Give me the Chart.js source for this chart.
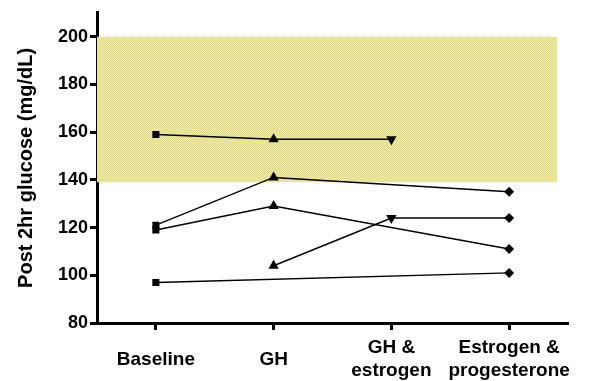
<!DOCTYPE html>
<html><head><meta charset="utf-8">
<script src="https://cdn.jsdelivr.net/npm/chart.js@4/dist/chart.umd.min.js"></script>
<style>html,body{margin:0;padding:0;background:#fff}#wrap{width:593px;height:381px}</style>
</head><body><div id="wrap"><canvas id="c" width="593" height="381"></canvas></div>
<script>
const categories = [["Baseline"], ["GH"], ["GH &", "estrogen"], ["Estrogen &", "progesterone"]];
const yTicks = [80, 100, 120, 140, 160, 180, 200];
const series1 = [159, 157, 157, null];
const series2 = [121, 141, null, 135];
const series3 = [119, 129, null, 111];
const series4 = [null, 104, 124, 124];
const series5 = [97, null, null, 101];
const bandTop = 200;
const bandBottom = 139;
const bandEnd = 3.41;

const catStyle = ['rect', 'triangle', 'triangle', 'rectRot'];
const catRot = [0, 0, 180, 0];
const catRad = [5, 6, 6, 5];

function toPts(vals) {
  const pts = [];
  vals.forEach((v, i) => { if (v !== null) pts.push({x: i, y: v}); });
  return pts;
}
function lineDs(vals) {
  const pts = toPts(vals);
  return {
    data: pts,
    borderColor: '#000', borderWidth: 1.4, backgroundColor: '#000',
    pointStyle: pts.map(p => catStyle[p.x]),
    pointRotation: pts.map(p => catRot[p.x]),
    pointRadius: pts.map(p => catRad[p.x]),
    pointBorderWidth: 0,
    pointBackgroundColor: '#000', pointBorderColor: '#000',
    fill: false, tension: 0, order: 0
  };
}
const pc = document.createElement('canvas');
pc.width = 2; pc.height = 2;
const pctx = pc.getContext('2d');
pctx.fillStyle = '#f4f0a4'; pctx.fillRect(0, 0, 2, 2);
pctx.fillStyle = '#dbd68e'; pctx.fillRect(0, 0, 1, 1); pctx.fillRect(1, 1, 1, 1);
const pattern = pctx.createPattern(pc, 'repeat');
const F = 'Liberation Sans, Arial';

new Chart(document.getElementById('c'), {
  type: 'line',
  data: {
    datasets: [
      {data: [{x: -0.5, y: bandTop}, {x: bandEnd, y: bandTop}], borderWidth: 0, pointRadius: 0, fill: false, order: 10},
      {data: [{x: -0.5, y: bandBottom}, {x: bandEnd, y: bandBottom}], borderWidth: 0, pointRadius: 0, fill: '-1', backgroundColor: pattern, order: 10},
      lineDs(series1), lineDs(series2), lineDs(series3), lineDs(series4), lineDs(series5)
    ]
  },
  options: {
    responsive: false, animation: false,
    layout: {padding: {left: 0, top: 10, right: 25, bottom: 0}},
    plugins: {legend: {display: false}, tooltip: {enabled: false}},
    scales: {
      x: {
        type: 'linear', min: -0.5, max: 3.5,
        afterBuildTicks: s => { s.ticks = categories.map((c, i) => ({value: i})); },
        afterFit: s => { s.height = 58; },
        ticks: {
          callback: v => categories[v],
          color: '#000', font: {family: F, size: 19, weight: 'bold', lineHeight: 1.2},
          maxRotation: 0, autoSkip: false, padding: 18, crossAlign: 'center'
        },
        grid: {drawOnChartArea: false, drawTicks: true, tickLength: 7, tickWidth: 3, tickColor: '#000'},
        border: {display: true, color: '#000', width: 3}
      },
      y: {
        min: 80, max: 210,
        afterBuildTicks: s => { s.ticks = yTicks.map(v => ({value: v})); },
        afterFit: s => { s.width = 97; },
        ticks: {color: '#000', font: {family: F, size: 18, weight: 'bold'}, padding: 2},
        grid: {drawOnChartArea: false, drawTicks: true, tickLength: 7, tickWidth: 3, tickColor: '#000'},
        border: {display: true, color: '#000', width: 3},
        title: {display: true, text: 'Post 2hr glucose (mg/dL)', color: '#000', font: {family: F, size: 20, weight: 'bold'}, padding: {top: 14, bottom: 0}}
      }
    }
  }
});
</script></body></html>
